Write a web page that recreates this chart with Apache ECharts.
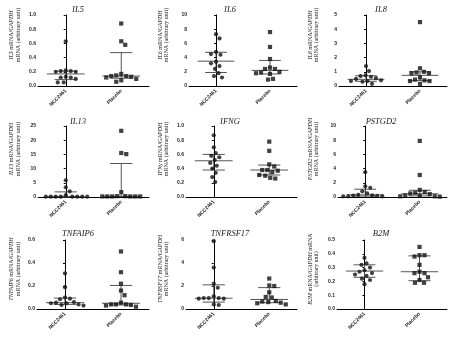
<!DOCTYPE html>
<html><head><meta charset="utf-8">
<script src="https://cdn.jsdelivr.net/npm/echarts@6/dist/echarts.min.js"></script>
<style>html,body{margin:0;padding:0;background:#fff}#c{width:454px;height:340px}</style>
</head><body><div id="c"></div>
<script>
// ---------- data ----------
const groups = ['NCC2461', 'Placebo'];
const genes = ['IL5', 'IL6', 'IL8', 'IL13', 'IFNG', 'PSTGD2', 'TNFAIP6', 'TNFRSF17', 'B2M'];
const yMax = [1, 10, 5, 25, 1, 10, 0.6, 6, 0.5];
const yStep = [0.2, 2, 1, 5, 0.2, 2, 0.2, 2, 0.1];
const yDecimals = [1, 0, 0, 0, 1, 0, 1, 0, 1];
const yNameLine1 = ['{i|IL5} mRNA/{i|GAPDH}', '{i|IL6} mRNA/{i|GAPDH}', '{i|IL8} mRNA/{i|GAPDH}',
  '{i|IL13} mRNA/{i|GAPDH}', '{i|IFNγ} mRNA/{i|GAPDH}', '{i|PSTGD2} mRNA/{i|GAPDH}',
  '{i|TNFAIP6} mRNA/{i|GAPDH}', '{i|TNFRSF17} mRNA/{i|GAPDH}', '{i|B2M} mRNA/{i|GAPDH} mRNA'];
const yNameLine2 = ['mRNA (arbitrary unit)', 'mRNA (arbitrary unit)', 'mRNA (arbitrary unit)',
  'mRNA (arbitrary unit)', 'mRNA (arbitrary unit)', 'mRNA (arbitrary unit)',
  'mRNA (arbitrary unit)', 'mRNA (arbitrary unit)', '(arbitrary unit)'];

const IL5_NCC = [0.63, 0.22, 0.21, 0.21, 0.20, 0.20, 0.13, 0.12, 0.12, 0.10, 0.05, 0.05];
const IL5_Placebo = [0.88, 0.63, 0.58, 0.17, 0.15, 0.14, 0.14, 0.13, 0.12, 0.10, 0.08, 0.06];
const IL6_NCC = [7.3, 6.7, 4.8, 4.5, 4.4, 3.4, 3.2, 2.8, 2.4, 1.8, 1.4, 1.2];
const IL6_Placebo = [7.6, 5.5, 3.8, 2.6, 2.4, 2.4, 2.0, 1.9, 1.8, 1.7, 1.0, 0.9];
const IL8_NCC = [1.4, 1.05, 0.75, 0.7, 0.65, 0.55, 0.5, 0.4, 0.35, 0.35, 0.3, 0.15];
const IL8_Placebo = [4.5, 1.25, 1.0, 0.95, 0.9, 0.9, 0.6, 0.45, 0.4, 0.35, 0.35, 0.15];
const IL13_NCC = [5.9, 3.4, 2.0, 0.6, 0.1, 0.1, 0.1, 0.1, 0.1, 0.1, 0.1, 0.1];
const IL13_Placebo = [23.3, 15.5, 15.1, 1.7, 0.3, 0.3, 0.2, 0.2, 0.2, 0.2, 0.2, 0.2];
const IFNG_NCC = [0.87, 0.70, 0.62, 0.58, 0.56, 0.52, 0.48, 0.44, 0.40, 0.34, 0.28, 0.21];
const IFNG_Placebo = [0.78, 0.65, 0.46, 0.43, 0.38, 0.38, 0.37, 0.35, 0.31, 0.30, 0.27, 0.26];
const PSTGD2_NCC = [3.5, 1.5, 1.3, 0.8, 0.5, 0.3, 0.25, 0.2, 0.15, 0.1, 0.1, 0.1];
const PSTGD2_Placebo = [7.9, 3.1, 1.0, 0.7, 0.6, 0.5, 0.4, 0.2, 0.15, 0.1, 0.1, 0.05];
const TNFAIP6_NCC = [0.31, 0.19, 0.10, 0.09, 0.085, 0.06, 0.055, 0.05, 0.05, 0.04, 0.035, 0.03];
const TNFAIP6_Placebo = [0.50, 0.32, 0.22, 0.16, 0.12, 0.055, 0.04, 0.04, 0.04, 0.035, 0.03, 0.02];
const TNFRSF17_NCC = [5.9, 3.6, 2.2, 1.85, 1.1, 0.95, 0.95, 0.95, 0.9, 0.9, 0.4, 0.35];
const TNFRSF17_Placebo = [2.65, 2.05, 2.0, 1.45, 1.05, 1.0, 0.7, 0.65, 0.6, 0.55, 0.5, 0.4];
const B2M_NCC = [0.37, 0.33, 0.32, 0.30, 0.28, 0.27, 0.26, 0.25, 0.24, 0.22, 0.21, 0.18];
const B2M_Placebo = [0.45, 0.39, 0.39, 0.38, 0.32, 0.27, 0.26, 0.26, 0.23, 0.21, 0.19, 0.19];

// median / interquartile range per gene (order as genes)
const nccMedian = [0.17, 3.5, 0.47, 0.1, 0.51, 0.3, 0.055, 0.94, 0.275];
const nccQ1 = [0.09, 1.9, 0.33, 0.05, 0.38, 0.12, 0.04, 0.6, 0.23];
const nccQ3 = [0.21, 4.75, 0.72, 1.8, 0.60, 1.1, 0.095, 2.1, 0.32];
const placeboMedian = [0.14, 2.2, 0.75, 0.25, 0.38, 0.45, 0.05, 0.83, 0.27];
const placeboQ1 = [0.11, 1.7, 0.38, 0.15, 0.31, 0.15, 0.035, 0.55, 0.205];
const placeboQ3 = [0.47, 3.6, 1.0, 11.8, 0.45, 0.95, 0.205, 1.86, 0.385];

const nccValues = [IL5_NCC, IL6_NCC, IL8_NCC, IL13_NCC, IFNG_NCC, PSTGD2_NCC, TNFAIP6_NCC, TNFRSF17_NCC, B2M_NCC];
const placeboValues = [IL5_Placebo, IL6_Placebo, IL8_Placebo, IL13_Placebo, IFNG_Placebo, PSTGD2_Placebo, TNFAIP6_Placebo, TNFRSF17_Placebo, B2M_Placebo];

// ---------- layout ----------
const gridLeft = [[38, 189, 339], [38, 186, 338], [37, 186, 337]];
const gridRight = [149, 297, 447];
const gridTop = [15, 126, 240];
const gridBottom = [86, 197, 309];
const titleX = [78, 230, 381];
const titleY = [10, 122, 234];
const labelX = [15, 163.5, 313.5];
const labelY = [35, 149, 269];

const W = 454, H = 340;
const MS = 4.2;

// Beeswarm spreading with an elliptical keep-out zone (wider vertical reach),
// so points of similar value are set side by side as in a scatter dot plot.
function swarm(vals, pxPerUnit, catPx) {
  const dX = MS * 1.15, dY = 6;
  const order = vals.map((v, i) => i).sort((a, b) => vals[b] - vals[a]);
  const placed = [];
  const off = new Array(vals.length).fill(0);
  let flip = 1;
  for (const i of order) {
    const y = vals[i] * pxPerUnit;
    let best = 0;
    for (let k = 0; k < 400; k++) {
      const cands = k === 0 ? [0] : [flip * k * 0.5, -flip * k * 0.5];
      let found = null;
      for (const x of cands) {
        let ok = true;
        for (const p of placed) {
          const ex = (x - p.x) / dX, ey = (y - p.y) / dY;
          if (ex * ex + ey * ey < 1) { ok = false; break; }
        }
        if (ok) { found = x; break; }
      }
      if (found !== null) { best = found; break; }
    }
    if (best !== 0) flip = best > 0 ? -1 : 1;
    placed.push({ x: best, y });
    off[i] = best / catPx;
  }
  return off;
}

const grids = [], xAxes = [], yAxes = [], series = [], graphics = [];
genes.forEach((g, i) => {
  const r = Math.floor(i / 3), c = i % 3;
  const left = gridLeft[r][c], right = gridRight[c], top = gridTop[r], bottom = gridBottom[r];
  grids.push({ left, top, width: right - left, height: bottom - top });
  const pxPerUnit = (bottom - top) / yMax[i];
  const catPx = (right - left) / 2;
  xAxes.push({
    type: 'category', gridIndex: i, data: groups, boundaryGap: true,
    axisLine: { lineStyle: { color: '#000', width: 1 } },
    axisTick: { alignWithLabel: true, length: 2, lineStyle: { color: '#000' } },
    axisLabel: { rotate: 45, fontSize: 5, margin: 4, color: '#222', fontFamily: 'Liberation Sans', fontWeight: 'bold' }
  });
  xAxes.push({ type: 'value', gridIndex: i, min: -0.5, max: 1.5, show: false });
  yAxes.push({
    type: 'value', gridIndex: i, min: 0, max: yMax[i], interval: yStep[i],
    splitLine: { show: false },
    axisLine: { show: true, lineStyle: { color: '#000', width: 1 } },
    axisTick: { show: true, length: 2, lineStyle: { color: '#000' } },
    axisLabel: { fontSize: 5, margin: 2, color: '#222', fontFamily: 'Liberation Sans', fontWeight: 'bold',
      formatter: v => v.toFixed(yDecimals[i]) }
  });
  const xi = i * 2 + 1;
  const offN = swarm(nccValues[i], pxPerUnit, catPx);
  const offP = swarm(placeboValues[i], pxPerUnit, catPx);
  series.push({
    type: 'custom', xAxisIndex: xi, yAxisIndex: i, z: 1, silent: true,
    data: [[0, nccMedian[i], nccQ1[i], nccQ3[i]], [1, placeboMedian[i], placeboQ1[i], placeboQ3[i]]],
    renderItem(params, api) {
      const gx = api.value(0), m = api.value(1), q1 = api.value(2), q3 = api.value(3);
      const st = { stroke: '#555', lineWidth: 1 };
      const L = (a, b) => ({ type: 'line', shape: { x1: a[0], y1: a[1], x2: b[0], y2: b[1] }, style: st });
      return {
        type: 'group', children: [
          L(api.coord([gx, q1]), api.coord([gx, q3])),
          L(api.coord([gx - 0.34, m]), api.coord([gx + 0.34, m])),
          L(api.coord([gx - 0.2, q1]), api.coord([gx + 0.2, q1])),
          L(api.coord([gx - 0.2, q3]), api.coord([gx + 0.2, q3]))
        ]
      };
    }
  });
  series.push({
    type: 'scatter', xAxisIndex: xi, yAxisIndex: i, z: 3, symbol: 'circle', symbolSize: MS,
    itemStyle: { color: '#111' },
    data: nccValues[i].map((v, k) => [0 + offN[k], v])
  });
  series.push({
    type: 'scatter', xAxisIndex: xi, yAxisIndex: i, z: 3, symbol: 'rect', symbolSize: MS,
    itemStyle: { color: '#111' },
    data: placeboValues[i].map((v, k) => [1 + offP[k], v])
  });
  graphics.push({
    type: 'text', x: titleX[c], y: titleY[r],
    style: { text: g, fill: '#222', font: 'italic 8.5px "Liberation Serif"', align: 'center', verticalAlign: 'middle' }
  });
  graphics.push({
    type: 'text', x: labelX[c], y: labelY[r], rotation: Math.PI / 2,
    style: {
      text: '{n|' + yNameLine1[i].replace(/\{i\|([^}]*)\}/g, '}{i|$1}{n|') + '}\n{n|' + yNameLine2[i] + '}',
      align: 'center', verticalAlign: 'middle', fill: '#222',
      rich: {
        n: { fontFamily: 'Liberation Serif', fontSize: 6, lineHeight: 6.5, fill: '#222' },
        i: { fontFamily: 'Liberation Serif', fontStyle: 'italic', fontSize: 6, lineHeight: 6.5, fill: '#222' }
      }
    }
  });
});

const chart = echarts.init(document.getElementById('c'), null, { renderer: 'canvas', width: W, height: H });
chart.setOption({
  animation: false,
  backgroundColor: '#fff',
  grid: grids, xAxis: xAxes, yAxis: yAxes, series, graphic: graphics
});
</script></body></html>
